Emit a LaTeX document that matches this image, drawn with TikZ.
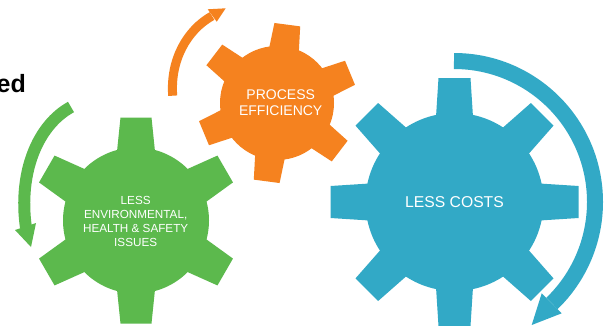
\documentclass[tikz,border=0pt]{standalone}
\usepackage{fontspec}
\setmainfont{Liberation Sans}
\definecolor{gearGreen}{HTML}{5CB94D}
\definecolor{gearOrange}{HTML}{F5821F}
\definecolor{gearBlue}{HTML}{32A9C6}
\newcommand{\drawgear}[9]{%
  % cx cy teeth start rbody router hwbase hwtip colour
  \fill[#9] (#1,#2) circle[radius=#5];
  \pgfmathsetmacro{\gstep}{360/#3}
  \pgfmathtruncatemacro{\gcount}{#3-1}
  \foreach \gi in {0,...,\gcount}{
    \pgfmathsetmacro{\gang}{#4+\gi*\gstep}
    \fill[#9,shift={(#1,#2)},rotate=\gang]
      (#5-4,-#7) -- (#6,-#8) -- (#6,#8) -- (#5-4,#7) -- cycle;
  }
}
\tikzset{
  gearlabel/.style={text=white,align=center,inner sep=0pt},
  sweep/.style={line cap=butt,fill=none}
}
\begin{document}
\begin{tikzpicture}[x=1pt,y=-1pt]
\useasboundingbox (0,0) rectangle (613,325);
\fill[white] (0,0) rectangle (613,325);
\node[anchor=base east,inner sep=0pt,font=\fontsize{25}{25}\selectfont\bfseries] (headfrag) at (26,92) {ed};

% green gear and arrow
\drawgear{136}{220.5}{6}{30}{73}{103}{19}{15.5}{gearGreen}
\draw[sweep,gearGreen,line width=12pt] (71,107) .. controls (38,125) and (18,172) .. (26,228);
\fill[gearGreen] (31,247) -- (15,230) -- (36,223) -- cycle;
\node[gearlabel,font=\fontsize{11.7}{14}\selectfont] (green) at (135.7,221) {LESS\\ENVIRONMENTAL,\\HEALTH \& SAFETY\\ISSUES};

% orange gear and arrow
\drawgear{277}{103}{6}{22.5}{57}{79}{15}{13}{gearOrange}
\draw[sweep,gearOrange,line width=9pt] (172.7,95.7) .. controls (170,60) and (187,30) .. (212,16);
\fill[gearOrange] (225.7,8.3) -- (207.7,9.3) -- (216.7,21.7) -- cycle;
\node[gearlabel,font=\fontsize{14}{15.7}\selectfont] (orange) at (280.7,103) {PROCESS\\EFFICIENCY};

% blue gear and arrow
\drawgear{454.5}{202}{8}{0}{89}{124}{18.5}{16}{gearBlue}
\draw[sweep,gearBlue,line width=16pt] (454,61) arc[start angle=-90,end angle=46,radius=141];
\fill[gearBlue] (531.7,325) -- (541.7,293.3) -- (561.7,313.3) -- cycle;
\node[gearlabel,font=\fontsize{15.7}{18}\selectfont] (blue) at (454.5,202) {LESS COSTS};
\end{tikzpicture}
\end{document}
